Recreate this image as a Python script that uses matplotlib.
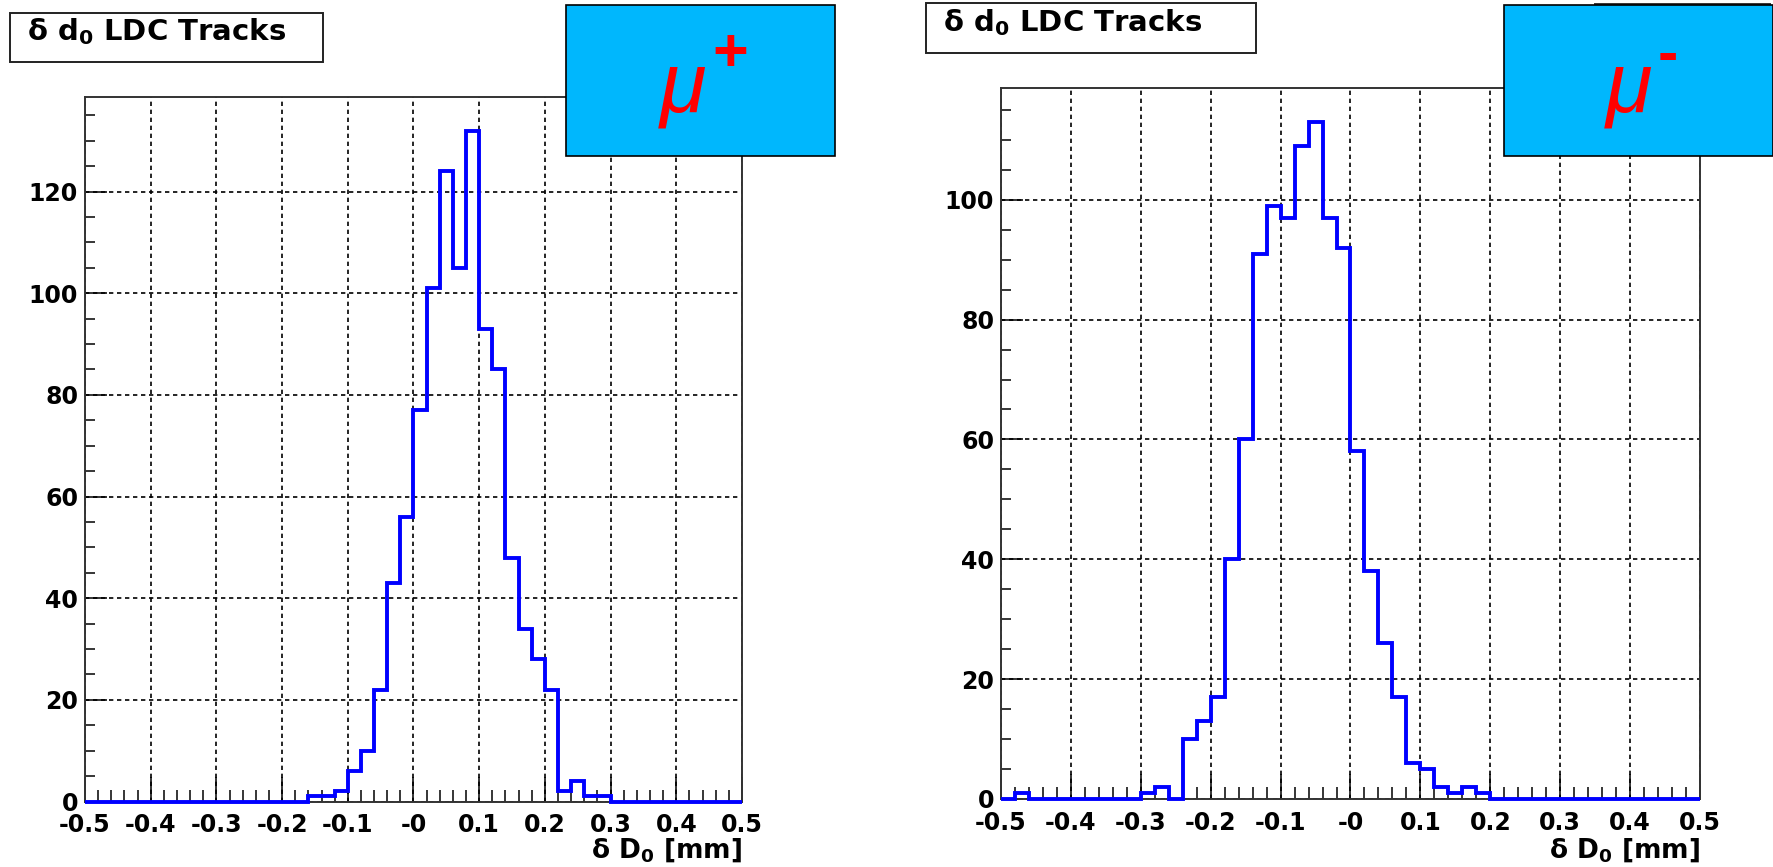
import numpy as np
import matplotlib.pyplot as plt
from matplotlib.patches import Rectangle
from matplotlib.ticker import MultipleLocator

plt.rcParams['font.family'] = ['DejaVu Sans']
plt.rcParams['font.weight'] = 'bold'
plt.rcParams['mathtext.default'] = 'bf'

# == data ==
bin_edges = np.linspace(-0.5, 0.5, 51)   # 50 bins of 0.02 mm
mu_plus_counts = [0, 0, 0, 0, 0, 0, 0, 0, 0, 0,
                  0, 0, 0, 0, 0, 0, 0, 1, 1, 2,
                  6, 10, 22, 43, 56, 77, 101, 124, 105, 132,
                  93, 85, 48, 34, 28, 22, 2, 4, 1, 1,
                  0, 0, 0, 0, 0, 0, 0, 0, 0, 0]
mu_minus_counts = [0, 1, 0, 0, 0, 0, 0, 0, 0, 0,
                   1, 2, 0, 10, 13, 17, 40, 60, 91, 99,
                   97, 109, 113, 97, 92, 58, 38, 26, 17, 6,
                   5, 2, 1, 2, 1, 0, 0, 0, 0, 0,
                   0, 0, 0, 0, 0, 0, 0, 0, 0, 0]
xtick_values = [-0.5, -0.4, -0.3, -0.2, -0.1, 0.0, 0.1, 0.2, 0.3, 0.4, 0.5]
xtick_labels = ["-0.5", "-0.4", "-0.3", "-0.2", "-0.1", "-0",
                "0.1", "0.2", "0.3", "0.4", "0.5"]
title_text = "δ d$_0$ LDC Tracks"
xlabel_text = "δ D$_0$ [mm]"
# ============

W, H = 1774, 867
fig = plt.figure(figsize=(W / 100, H / 100), dpi=100)


def fx(px):
    return px / W


def fy(py):
    return 1 - py / H


def draw_panel(rect, counts):
    ax = fig.add_axes(rect)
    ax.stairs(counts, bin_edges, color='#0000ff', lw=2.8, zorder=3, clip_on=False)
    ax.set_xlim(-0.5, 0.5)
    ax.set_ylim(0, 1.05 * max(counts))
    ax.set_xticks(xtick_values)
    ax.set_xticklabels(xtick_labels)
    ax.xaxis.set_minor_locator(MultipleLocator(0.02))
    ax.yaxis.set_major_locator(MultipleLocator(20))
    ax.yaxis.set_minor_locator(MultipleLocator(5))
    ax.tick_params(axis='x', which='major', direction='in', length=18, width=1.1,
                   labelsize=17, pad=8.5)
    ax.tick_params(axis='x', which='minor', direction='in', length=8.5, width=1.1)
    ax.tick_params(axis='y', which='major', direction='in', length=16, width=1.1,
                   labelsize=17, pad=5)
    ax.tick_params(axis='y', which='minor', direction='in', length=7.5, width=1.1)
    ax.grid(True, which='major', color='k', linestyle=(0, (2.6, 2.2)), linewidth=1.2)
    for sp in ax.spines.values():
        sp.set_color('#333333')
        sp.set_linewidth(1.4)
    return ax


ax1 = draw_panel([fx(85), fy(801.5), fx(742) - fx(85), fy(97) - fy(801.5)], mu_plus_counts)
ax2 = draw_panel([fx(1001), fy(799), fx(1700) - fx(1001), fy(88) - fy(799)], mu_minus_counts)

# x-axis titles
fig.text(fx(742), fy(858), xlabel_text, ha='right', va='baseline', fontsize=19)
fig.text(fx(1700), fy(858), xlabel_text, ha='right', va='baseline', fontsize=19)

# title boxes
for x0, y0, x1, y1, tx, ty in [(10, 12.7, 323, 61.7, 27, 40), (925.6, 3.3, 1256.3, 52.7, 943, 31)]:
    fig.add_artist(Rectangle((fx(x0), fy(y1)), fx(x1) - fx(x0), fy(y0) - fy(y1),
                             transform=fig.transFigure, facecolor='white',
                             edgecolor='#222222', lw=1.4, zorder=1))
    fig.text(fx(tx), fy(ty), title_text, ha='left', va='baseline', fontsize=21, zorder=4)

# box peeking out behind the mu- box
fig.add_artist(Rectangle((fx(1595), fy(140)), fx(1770) - fx(1595), fy(3.5) - fy(140),
                         transform=fig.transFigure, facecolor='white',
                         edgecolor='#333333', lw=1.4, zorder=1))

# muon charge boxes
cyan = '#00b7fd'
for x0, mu_x, sign, sign_x in [(566, 683, "+", 730.5), (1504, 1628.5, "-", 1668)]:
    fig.add_artist(Rectangle((fx(x0), fy(156)), fx(269), fy(5) - fy(156),
                             transform=fig.transFigure, facecolor=cyan,
                             edgecolor='black', lw=1.2, zorder=2))
    fig.text(fx(mu_x), fy(111), "μ", ha='center', va='baseline', fontsize=61,
             color='red', style='italic', weight='normal', family='Liberation Sans', zorder=5)
    fig.text(fx(sign_x), fy(56), sign, ha='center', va='center', fontsize=44,
             color='red', weight='bold', family='Liberation Sans', zorder=5)

fig.savefig('out.png', dpi=100)
